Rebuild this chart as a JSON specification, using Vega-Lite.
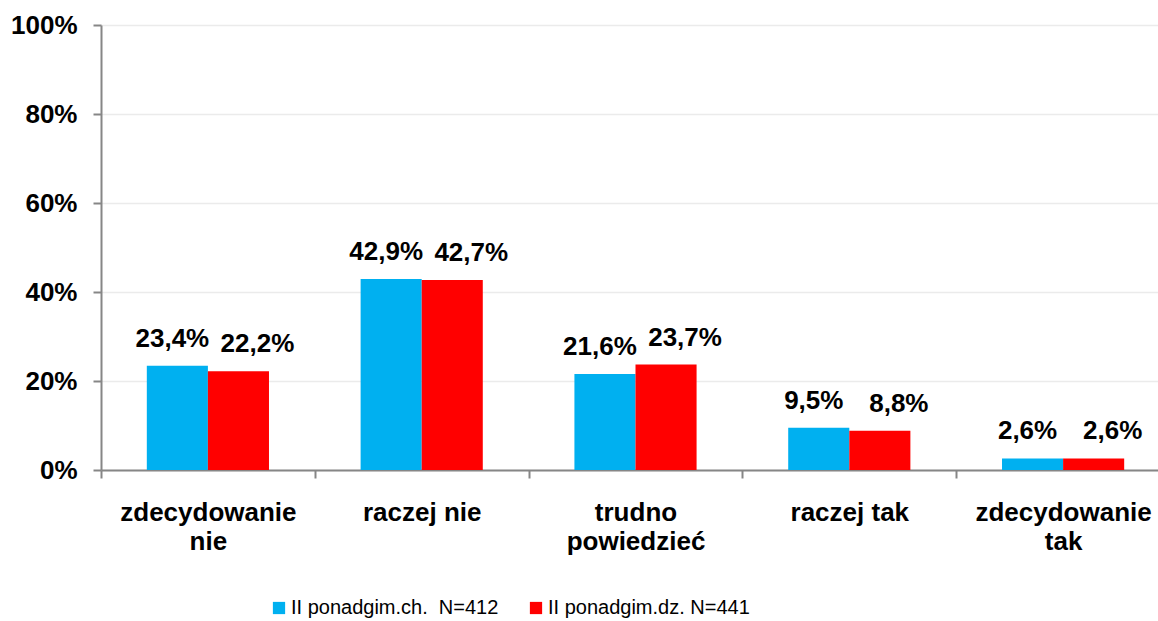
{
  "$schema": "https://vega.github.io/schema/vega-lite/v6.json",
  "width": 1057,
  "height": 445,
  "autosize": {"type": "none"},
  "padding": {"left": 101, "top": 25, "right": 0, "bottom": 151},
  "background": "white",
  "config": {
    "locale": {"number": {"decimal": ",", "thousands": " ", "grouping": [3], "currency": ["", " zł"]}},
    "view": {"stroke": null},
    "font": "Liberation Sans"
  },
  "data": {
    "values": [
      {"odpowiedz": "zdecydowanie nie", "grupa": "II ponadgim.ch.\u00a0 N=412", "wartosc": 0.234},
      {"odpowiedz": "zdecydowanie nie", "grupa": "II ponadgim.dz. N=441", "wartosc": 0.222},
      {"odpowiedz": "raczej nie", "grupa": "II ponadgim.ch.\u00a0 N=412", "wartosc": 0.429},
      {"odpowiedz": "raczej nie", "grupa": "II ponadgim.dz. N=441", "wartosc": 0.427},
      {"odpowiedz": "trudno powiedzieć", "grupa": "II ponadgim.ch.\u00a0 N=412", "wartosc": 0.216},
      {"odpowiedz": "trudno powiedzieć", "grupa": "II ponadgim.dz. N=441", "wartosc": 0.237},
      {"odpowiedz": "raczej tak", "grupa": "II ponadgim.ch.\u00a0 N=412", "wartosc": 0.095},
      {"odpowiedz": "raczej tak", "grupa": "II ponadgim.dz. N=441", "wartosc": 0.088},
      {"odpowiedz": "zdecydowanie tak", "grupa": "II ponadgim.ch.\u00a0 N=412", "wartosc": 0.026},
      {"odpowiedz": "zdecydowanie tak", "grupa": "II ponadgim.dz. N=441", "wartosc": 0.026}
    ]
  },
  "encoding": {
    "x": {
      "field": "odpowiedz",
      "type": "nominal",
      "sort": null,
      "scale": {"range": [0, 1069], "paddingInner": 0, "paddingOuter": 0},
      "axis": {
        "title": null,
        "labelAngle": 0,
        "tickBand": "extent",
        "tickSize": 8,
        "tickWidth": 2,
        "tickColor": "#868686",
        "domainColor": "#868686",
        "domainWidth": 2,
        "grid": false,
        "labelFontSize": 26,
        "labelFontWeight": "bold",
        "labelColor": "black",
        "labelLineHeight": 29,
        "labelPadding": 21,
        "labelLimit": 400,
        "labelExpr": "indexof(datum.label, 'raczej') == 0 ? datum.label : split(datum.label, ' ')"
      }
    },
    "xOffset": {
      "field": "grupa",
      "type": "nominal",
      "sort": null,
      "scale": {"paddingInner": 0, "paddingOuter": 0.75}
    },
    "y": {
      "field": "wartosc",
      "type": "quantitative",
      "scale": {"domain": [0, 1], "nice": false},
      "axis": {
        "title": null,
        "values": [0, 0.2, 0.4, 0.6, 0.8, 1],
        "format": ".0%",
        "labelFontSize": 26,
        "labelFontWeight": "bold",
        "labelColor": "black",
        "labelPadding": 16,
        "tickSize": 8,
        "tickWidth": 2,
        "tickColor": "#868686",
        "domainColor": "#868686",
        "domainWidth": 2,
        "gridColor": "#ebebeb",
        "gridWidth": 1.5
      }
    }
  },
  "layer": [
    {
      "mark": {"type": "bar"},
      "encoding": {
        "color": {
          "field": "grupa",
          "type": "nominal",
          "scale": {"domain": ["II ponadgim.ch.\u00a0 N=412", "II ponadgim.dz. N=441"], "range": ["#00B0F0", "#FF0000"]},
          "legend": {
            "title": null,
            "orient": "none",
            "legendX": 168,
            "legendY": 573,
            "direction": "horizontal",
            "symbolType": "square",
            "symbolSize": 150,
            "symbolStrokeWidth": 0,
            "symbolOpacity": 1,
            "labelFontSize": 20,
            "labelColor": "black",
            "labelOffset": 2,
            "labelLimit": 400,
            "columnPadding": 27
          }
        }
      }
    },
    {
      "transform": [{"filter": "datum.grupa == 'II ponadgim.ch.\u00a0 N=412'"}],
      "mark": {"type": "text", "baseline": "bottom", "dy": -14, "dx": -5, "fontSize": 26, "fontWeight": "bold", "color": "black"},
      "encoding": {"text": {"field": "wartosc", "type": "quantitative", "format": ".1%"}}
    },
    {
      "transform": [{"filter": "datum.grupa == 'II ponadgim.dz. N=441'"}],
      "mark": {"type": "text", "baseline": "bottom", "dy": -14, "dx": 19, "fontSize": 26, "fontWeight": "bold", "color": "black"},
      "encoding": {"text": {"field": "wartosc", "type": "quantitative", "format": ".1%"}}
    }
  ]
}
